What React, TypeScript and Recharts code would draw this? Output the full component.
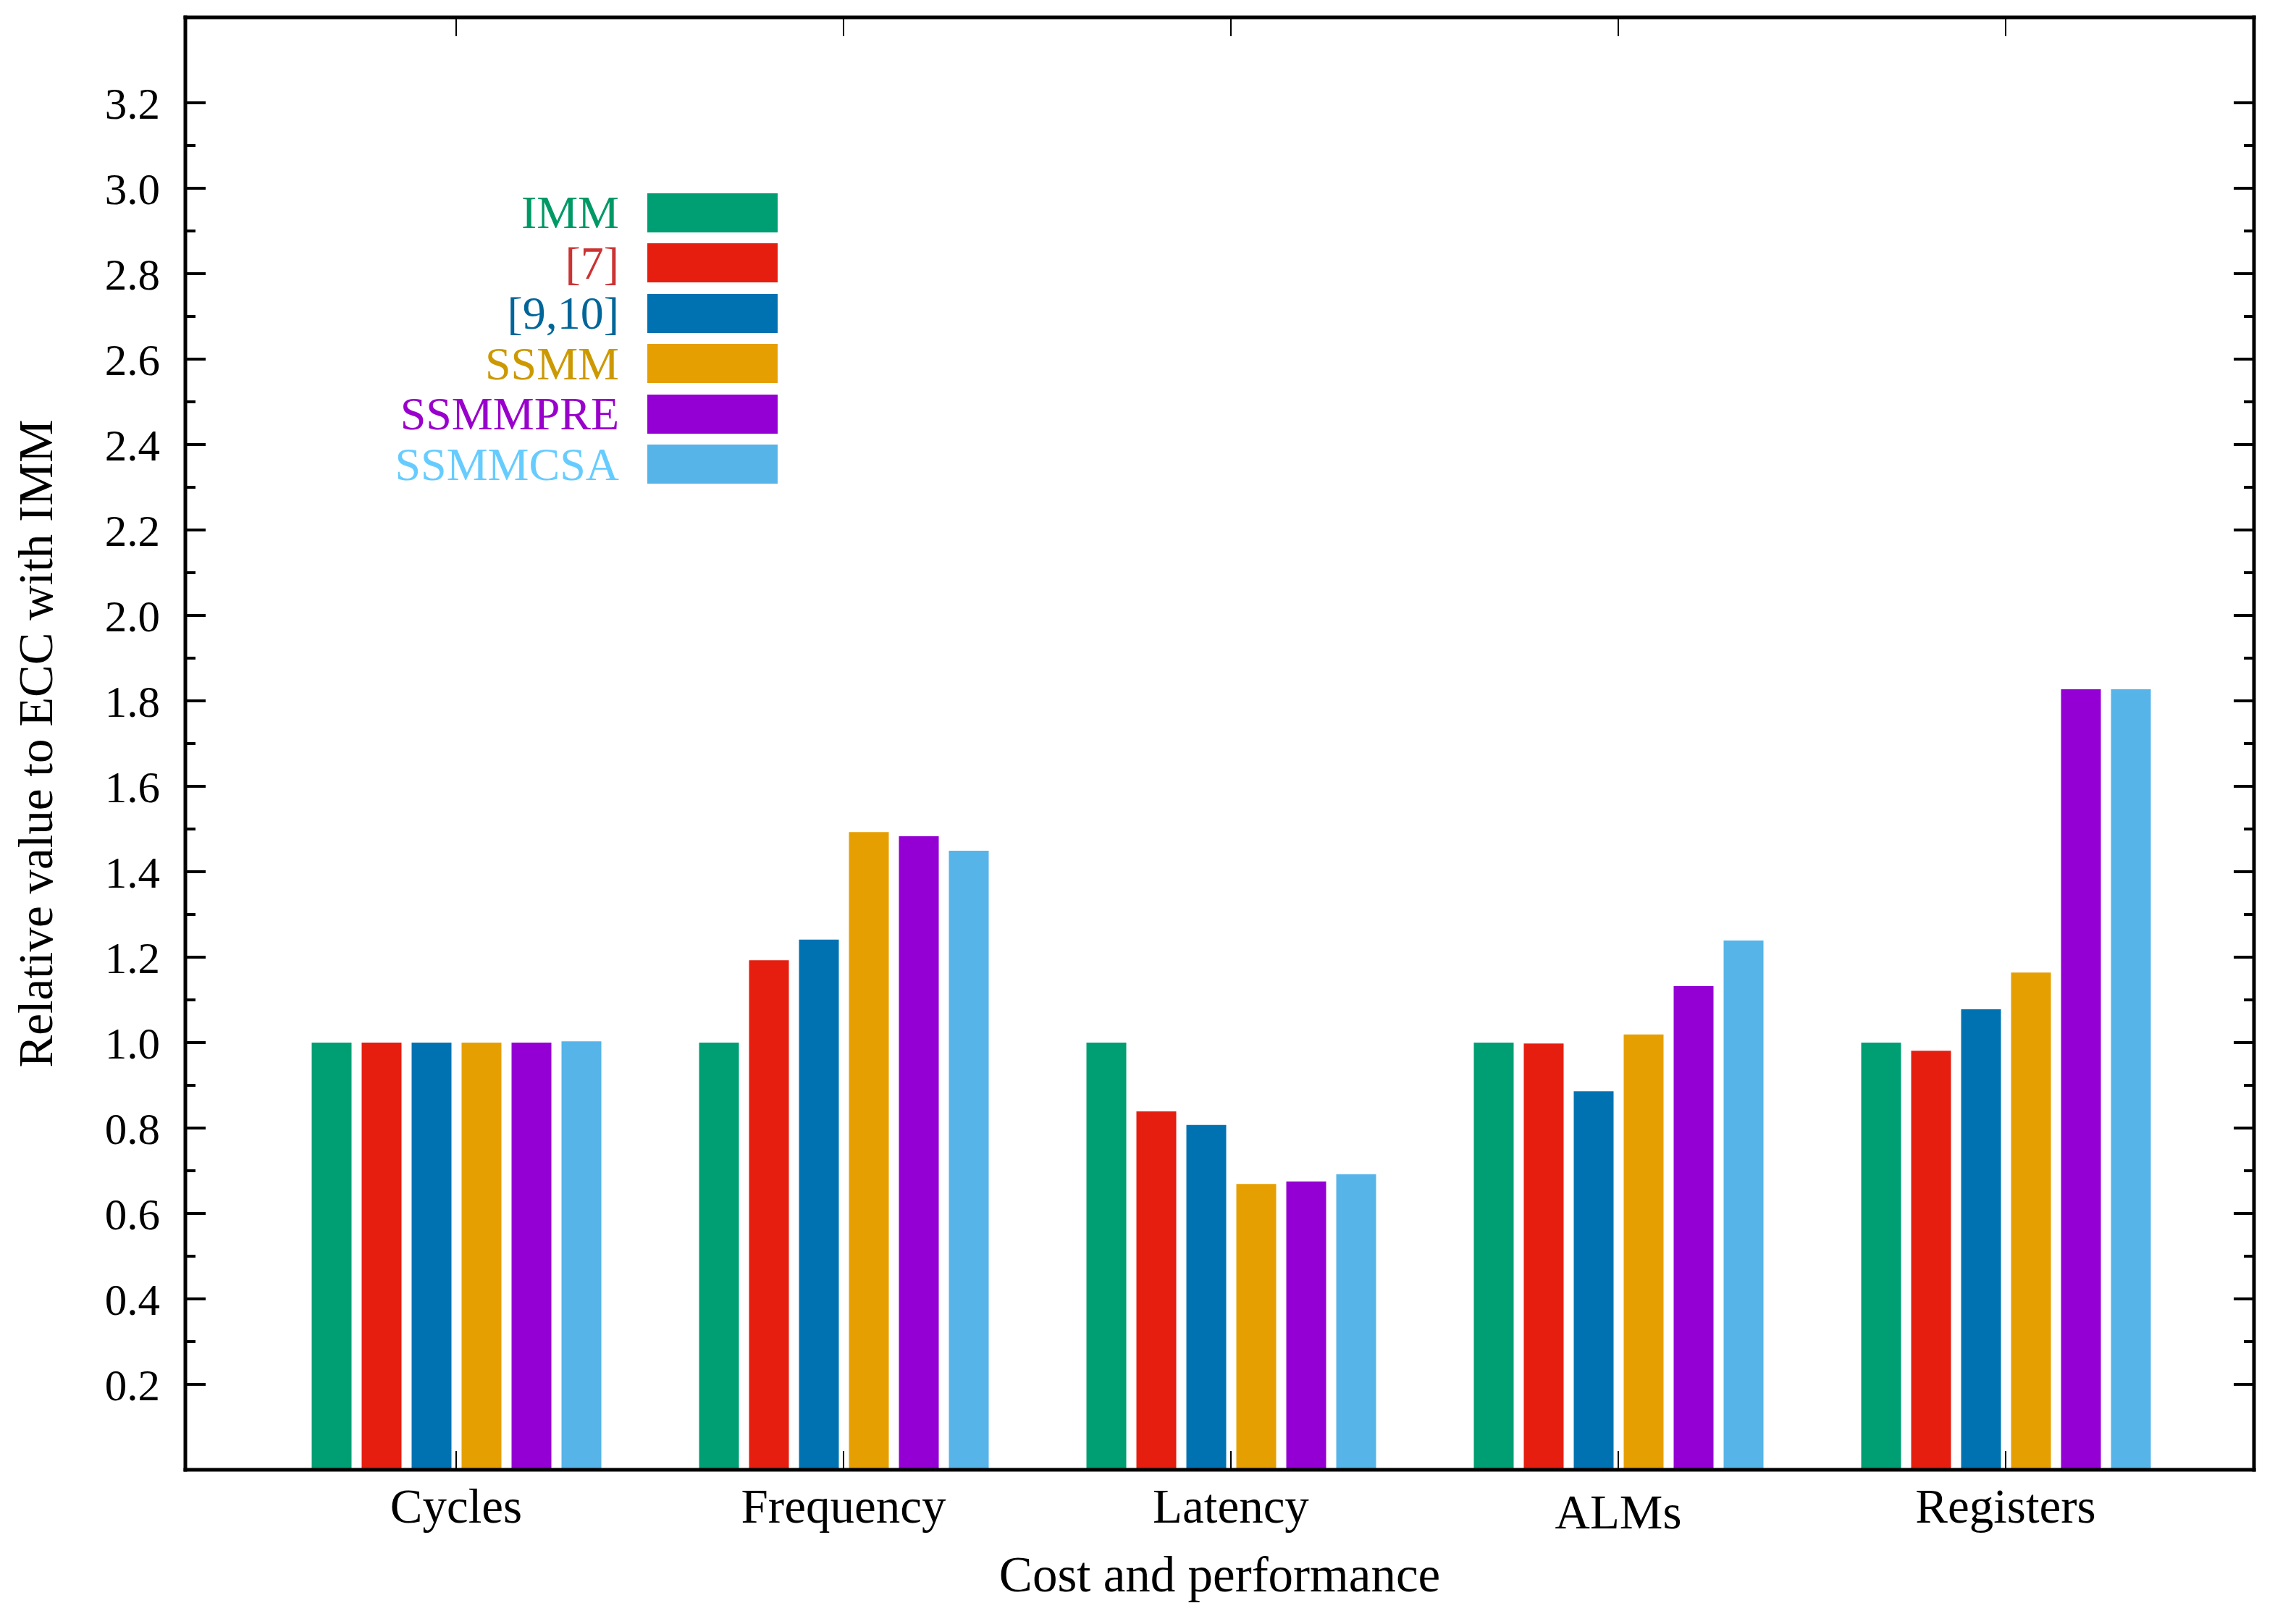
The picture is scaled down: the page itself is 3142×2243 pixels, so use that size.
import React from "react";
import { Bar, BarChart, Label, Legend, XAxis, YAxis } from "recharts";

const categories = ["Cycles", "Frequency", "Latency", "ALMs", "Registers"];
const seriesNames = ["IMM", "[7]", "[9,10]", "SSMM", "SSMMPRE", "SSMMCSA"];

const imm = [1.0, 1.0, 1.0, 1.0, 1.0];
const ref7 = [1.0, 1.193, 0.839, 0.998, 0.981];
const ref910 = [1.0, 1.241, 0.807, 0.886, 1.078];
const ssmm = [1.0, 1.493, 0.669, 1.019, 1.164];
const ssmmpre = [1.0, 1.483, 0.675, 1.132, 1.827];
const ssmmcsa = [1.003, 1.449, 0.692, 1.239, 1.827];

const majorTicks = [0.2, 0.4, 0.6, 0.8, 1.0, 1.2, 1.4, 1.6, 1.8, 2.0, 2.2, 2.4, 2.6, 2.8, 3.0, 3.2];
const minorTicks = [0.3, 0.5, 0.7, 0.9, 1.1, 1.3, 1.5, 1.7, 1.9, 2.1, 2.3, 2.5, 2.7, 2.9, 3.1];
const allTicks = [...majorTicks, ...minorTicks].sort((a, b) => a - b);

const barColors = ["#009e73", "#e51e10", "#0072b2", "#e69f00", "#9400d3", "#56b4e9"];
const textColors = ["#009966", "#cc3333", "#006699", "#cc9900", "#9900cc", "#66ccff"];

const allSeries = [imm, ref7, ref910, ssmm, ssmmpre, ssmmcsa];
const data = categories.map((cat, i) => {
  const row: Record<string, string | number> = { cat };
  seriesNames.forEach((name, s) => {
    row[name] = allSeries[s][i];
  });
  return row;
});

const FONT = "'Liberation Serif', 'Times New Roman', serif";
const W = 3142;
const H = 2243;
const pad = { left: 106.5, right: 75.5 };
const frame = { stroke: "#000", strokeWidth: 5, strokeLinecap: "square" as const };
const thinTick = { stroke: "#000", strokeWidth: 2 };

// tick marks only, no text
const NoLabel = () => <g />;

// inward y tick marks: long for labelled values, short for the ones between
function tickMarks(dir: number) {
  return (props: any) => {
    const { x, y, payload } = props;
    const len = majorTicks.includes(payload.value) ? 28 : 14;
    return <line x1={x} y1={y} x2={x + dir * len} y2={y} stroke="#000" strokeWidth={4} />;
  };
}

function CategoryTick(props: any) {
  const { x, y, payload } = props;
  const label = String(payload.value);
  // labels without descenders sit a little lower, like in the original
  const shift = /[gjpqy]/.test(label) ? 0 : 8;
  return (
    <text x={x} y={y + 73 + shift} textAnchor="middle" fontFamily={FONT} fontSize={67} fill="#000">
      {label}
    </text>
  );
}

function YTitle(props: any) {
  const vb = props.viewBox || {};
  const x = vb.x + 72;
  const y = vb.y + vb.height / 2;
  return (
    <text x={x} y={y} transform={`rotate(-90 ${x} ${y})`} textAnchor="middle" fontFamily={FONT} fontSize={67} fill="#000">
      Relative value to ECC with IMM
    </text>
  );
}

function XTitle(props: any) {
  const vb = props.viewBox || {};
  return (
    <text x={vb.x + vb.width / 2} y={vb.y + 168} textAnchor="middle" fontFamily={FONT} fontSize={69} fill="#000">
      Cost and performance
    </text>
  );
}

function LegendBox(props: any) {
  const items = [...(props.payload || [])].sort(
    (a: any, b: any) => seriesNames.indexOf(a.value) - seriesNames.indexOf(b.value)
  );
  return (
    <div style={{ display: "flex", flexDirection: "column" }}>
      {items.map((item: any) => {
        const idx = seriesNames.indexOf(item.value);
        return (
          <div key={item.value} style={{ display: "flex", alignItems: "center", height: 69.5 }}>
            <span
              style={{
                width: 400,
                textAlign: "right",
                color: textColors[idx],
                fontFamily: FONT,
                fontSize: 64,
                lineHeight: "69.5px",
              }}
            >
              {item.value}
            </span>
            <span style={{ width: 180, height: 54, marginLeft: 39, background: barColors[idx] }} />
          </div>
        );
      })}
    </div>
  );
}

export default function App() {
  return (
    <div style={{ width: W, height: H, background: "#fff" }}>
      <style>{"body{margin:0;overflow:hidden;background:#fff}"}</style>
      <BarChart width={W} height={H} data={data} margin={{ top: 24, right: 29, bottom: 0, left: 0 }} barSize={55} barGap={14}>
        <XAxis
          xAxisId="main"
          dataKey="cat"
          height={213}
          padding={pad}
          axisLine={frame}
          tickLine={false}
          tickSize={0}
          tickMargin={0}
          tick={CategoryTick}
          interval={0}
        >
          <Label content={XTitle} />
        </XAxis>
        <XAxis
          xAxisId="bottomTicks"
          dataKey="cat"
          mirror
          padding={pad}
          axisLine={false}
          tick={NoLabel}
          tickSize={26}
          tickLine={thinTick}
          stroke="#000"
          interval={0}
        />
        <XAxis
          xAxisId="topTicks"
          dataKey="cat"
          orientation="top"
          mirror
          padding={pad}
          axisLine={frame}
          tick={NoLabel}
          tickSize={26}
          tickLine={thinTick}
          stroke="#000"
          interval={0}
        />
        <YAxis
          yAxisId="main"
          type="number"
          domain={[0, 3.4]}
          allowDataOverflow
          width={256}
          ticks={majorTicks}
          interval={0}
          axisLine={frame}
          tickLine={false}
          tickSize={0}
          tickMargin={35}
          tickFormatter={(v: number) => v.toFixed(1)}
          tick={{ fill: "#000", fontFamily: FONT, fontSize: 61 }}
        >
          <Label content={YTitle} />
        </YAxis>
        <YAxis
          yAxisId="leftTicks"
          type="number"
          domain={[0, 3.4]}
          allowDataOverflow
          mirror
          ticks={allTicks}
          interval={0}
          axisLine={false}
          tickLine={false}
          tickSize={0}
          tickMargin={0}
          tick={tickMarks(1)}
        />
        <YAxis
          yAxisId="rightTicks"
          orientation="right"
          type="number"
          domain={[0, 3.4]}
          allowDataOverflow
          mirror
          ticks={allTicks}
          interval={0}
          axisLine={frame}
          tickLine={false}
          tickSize={0}
          tickMargin={0}
          tick={tickMarks(-1)}
        />
        <Legend
          layout="vertical"
          align="center"
          verticalAlign="middle"
          content={LegendBox}
          wrapperStyle={{ left: 455, top: 259, width: 619, height: 417 }}
        />
        {seriesNames.map((name, s) => (
          <Bar
            key={name}
            xAxisId="main"
            yAxisId="main"
            dataKey={name}
            name={name}
            fill={barColors[s]}
            isAnimationActive={false}
          />
        ))}
      </BarChart>
    </div>
  );
}
